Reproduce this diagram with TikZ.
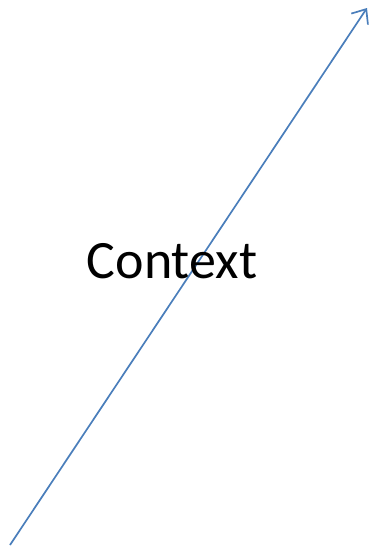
\documentclass[tikz,border=0pt]{standalone}
\usepackage{fontspec}
\setmainfont{Carlito}
\usetikzlibrary{arrows.meta}
\definecolor{arrowblue}{HTML}{4A7EBB}
\begin{document}
\begin{tikzpicture}[x=1pt,y=-1pt,
  ctxarrow/.style={draw=arrowblue,line width=1.7pt,-{Straight Barb[length=12pt,width=20pt,line width=1.7pt]}},
  label/.style={font=\fontsize{54}{60}\selectfont,inner sep=0pt,anchor=base}]
\useasboundingbox (0,0) rectangle (368,547);
\coordinate (s) at (10,545);
\coordinate (e) at (367,8);
\draw[ctxarrow] (s) -- (e);
\node[label] (t) at (172,278) {Context};
\end{tikzpicture}
\end{document}
